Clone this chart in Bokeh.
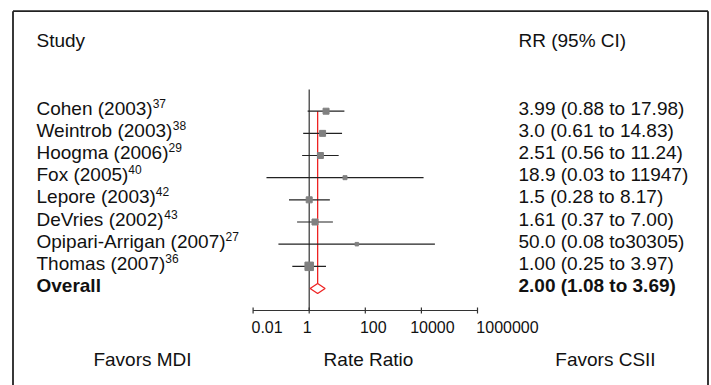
from bokeh.plotting import figure
from bokeh.models import Range1d, ColumnDataSource
from bokeh.core.properties import value
from bokeh.embed import file_html
from bokeh.resources import INLINE

# ---------------- data ----------------
studies = ["Cohen (2003)", "Weintrob (2003)", "Hoogma (2006)", "Fox (2005)",
           "Lepore (2003)", "DeVries (2002)", "Opipari-Arrigan (2007)", "Thomas (2007)"]
refs = ["37", "38", "29", "40", "42", "43", "27", "36"]
rr_text = ["3.99 (0.88 to 17.98)", "3.0 (0.61 to 14.83)", "2.51 (0.56 to 11.24)",
           "18.9 (0.03 to 11947)", "1.5 (0.28 to 8.17)", "1.61 (0.37 to 7.00)",
           "50.0 (0.08 to30305)", "1.00 (0.25 to 3.97)"]
# plotted values
est = [3.99, 3.0, 2.51, 18.9, 1.0, 1.61, 50.0, 1.00]
ci_lo = [0.88, 0.61, 0.56, 0.03, 0.19, 0.37, 0.08, 0.25]
ci_hi = [17.98, 14.83, 11.24, 11947, 5.45, 7.00, 30305, 3.97]
overall_label = "Overall"
overall_text = "2.00 (1.08 to 3.69)"
overall_est = 2.00
overall_lo = 1.08
overall_hi = 3.69
tick_values = [0.01, 1, 100, 10000, 1000000]
tick_labels = ["0.01", "1", "100", "10000", "1000000"]
header_left = "Study"
header_right = "RR (95% CI)"
footer = ["Favors MDI", "Rate Ratio", "Favors CSII"]

# ---------------- layout / style ----------------
W, H = 711, 385
X1_PX = 308.7      # pixel of RR = 1
DEC_PX = 28.05     # pixels per decade
ROW0_PX = 110.7    # pixel of first study row
ROW_PX = 22.16     # pixels per row
SQUARE_SIZES = [6, 6, 6, 4, 6, 6, 3.5, 8.5]
FONT = value("Liberation Sans")
FS = "19px"
INK = "#111111"


def xp(px):
    return 10 ** ((px - X1_PX) / DEC_PX)


def yp(px):
    return (px - ROW0_PX) / ROW_PX


p = figure(width=W, height=H, output_backend="svg", toolbar_location=None,
           x_axis_type="log", x_axis_location=None, y_axis_location=None,
           x_range=Range1d(xp(0), xp(W)), y_range=Range1d(yp(H), yp(0)),
           min_border=0, outline_line_color=None, background_fill_color="white")
p.grid.visible = False

n = len(studies)
rows = list(range(n))
ov_row = n
axis_row = yp(310)
dpx = 1.0 / ROW_PX

# frame border (left, top, right)
p.segment(x0=[xp(12.5), xp(12.5), xp(707.5)], y0=[yp(10.7)] * 3,
          x1=[xp(12.5), xp(707.5), xp(707.5)], y1=[yp(H + 5), yp(10.7), yp(H + 5)],
          line_color="#222222", line_width=1.8)

# line of no effect
p.segment(x0=[1], y0=[yp(89)], x1=[1], y1=[axis_row], line_color="#333333", line_width=1.2)

# axis
p.segment(x0=[tick_values[0]], y0=[axis_row], x1=[tick_values[-1]], y1=[axis_row],
          line_color="#333333", line_width=1.2)
p.segment(x0=tick_values, y0=[axis_row - 3 * dpx] * len(tick_values),
          x1=tick_values, y1=[axis_row + 3 * dpx] * len(tick_values),
          line_color="#333333", line_width=1.2)
lab_off = [14, -2, 8, 11, 30]
src_ticks = ColumnDataSource(dict(x=tick_values, y=[yp(326)] * len(tick_values),
                                  t=tick_labels, off=lab_off))
p.text(x="x", y="y", text="t", x_offset="off", source=src_ticks, text_font=FONT,
       text_font_size="16px", text_align="center", text_baseline="middle", text_color=INK)

# overall vertical red line
p.segment(x0=[overall_est], y0=[0], x1=[overall_est], y1=[ov_row - 5 * dpx],
          line_color="#ee2222", line_width=1.3)

# CIs
p.segment(x0=ci_lo, y0=rows, x1=ci_hi, y1=rows, line_color="#222222", line_width=1.2)
p.scatter(x=est, y=rows, size=SQUARE_SIZES, marker="square", fill_color="#808080",
          line_color="#808080")

# diamond
hd = 5 * dpx
p.patch(x=[overall_lo, overall_est, overall_hi, overall_est],
        y=[ov_row, ov_row - hd, ov_row, ov_row + hd],
        fill_color="white", line_color="#ee2222", line_width=1.3)

# text columns
TY = -3 * dpx
LX, RX = xp(36), xp(518)
p.text(x=[LX] * n, y=[r + TY for r in rows], text=studies, text_font=FONT,
       text_font_size=FS, text_baseline="middle", text_color=INK)

# superscripts: estimate widths of Arial-like text
CW = {c: 0.556 for c in "0123456789"}
CW.update({" ": 0.278, "(": 0.333, ")": 0.333, "-": 0.333, ".": 0.278,
           "C": 0.722, "o": 0.556, "h": 0.556, "e": 0.556, "n": 0.556, "W": 0.944,
           "i": 0.222, "t": 0.278, "r": 0.333, "b": 0.556, "H": 0.722, "g": 0.556,
           "m": 0.833, "a": 0.556, "F": 0.611, "x": 0.5, "L": 0.556, "p": 0.556,
           "D": 0.722, "V": 0.667, "s": 0.5, "O": 0.778, "A": 0.667, "T": 0.611})
sup_off = [sum(CW.get(c, 0.556) for c in s) * 19 for s in studies]
src_sup = ColumnDataSource(dict(x=[LX] * n, y=[r + TY - 5 * dpx for r in rows],
                                t=refs, off=sup_off))
p.text(x="x", y="y", text="t", x_offset="off", source=src_sup, text_font=FONT,
       text_font_size="12px", text_baseline="middle", text_color=INK)

p.text(x=[RX] * n, y=[r + TY for r in rows], text=rr_text, text_font=FONT,
       text_font_size=FS, text_baseline="middle", text_color=INK)

p.text(x=[LX], y=[ov_row + TY], text=[overall_label], text_font=FONT,
       text_font_size=FS, text_font_style="bold", text_baseline="middle", text_color=INK)
p.text(x=[RX], y=[ov_row + TY], text=[overall_text], text_font=FONT,
       text_font_size=FS, text_font_style="bold", text_baseline="middle", text_color=INK)

# headers
p.text(x=[LX, RX], y=[yp(40)] * 2, text=[header_left, header_right], text_font=FONT,
       text_font_size=FS, text_baseline="middle", text_color=INK)

# footer
p.text(x=[xp(142), xp(368), xp(605)], y=[yp(359)] * 3, text=footer, text_font=FONT,
       text_font_size=FS, text_align="center", text_baseline="middle", text_color=INK)

open("out.html", "w").write(file_html(p, INLINE))
